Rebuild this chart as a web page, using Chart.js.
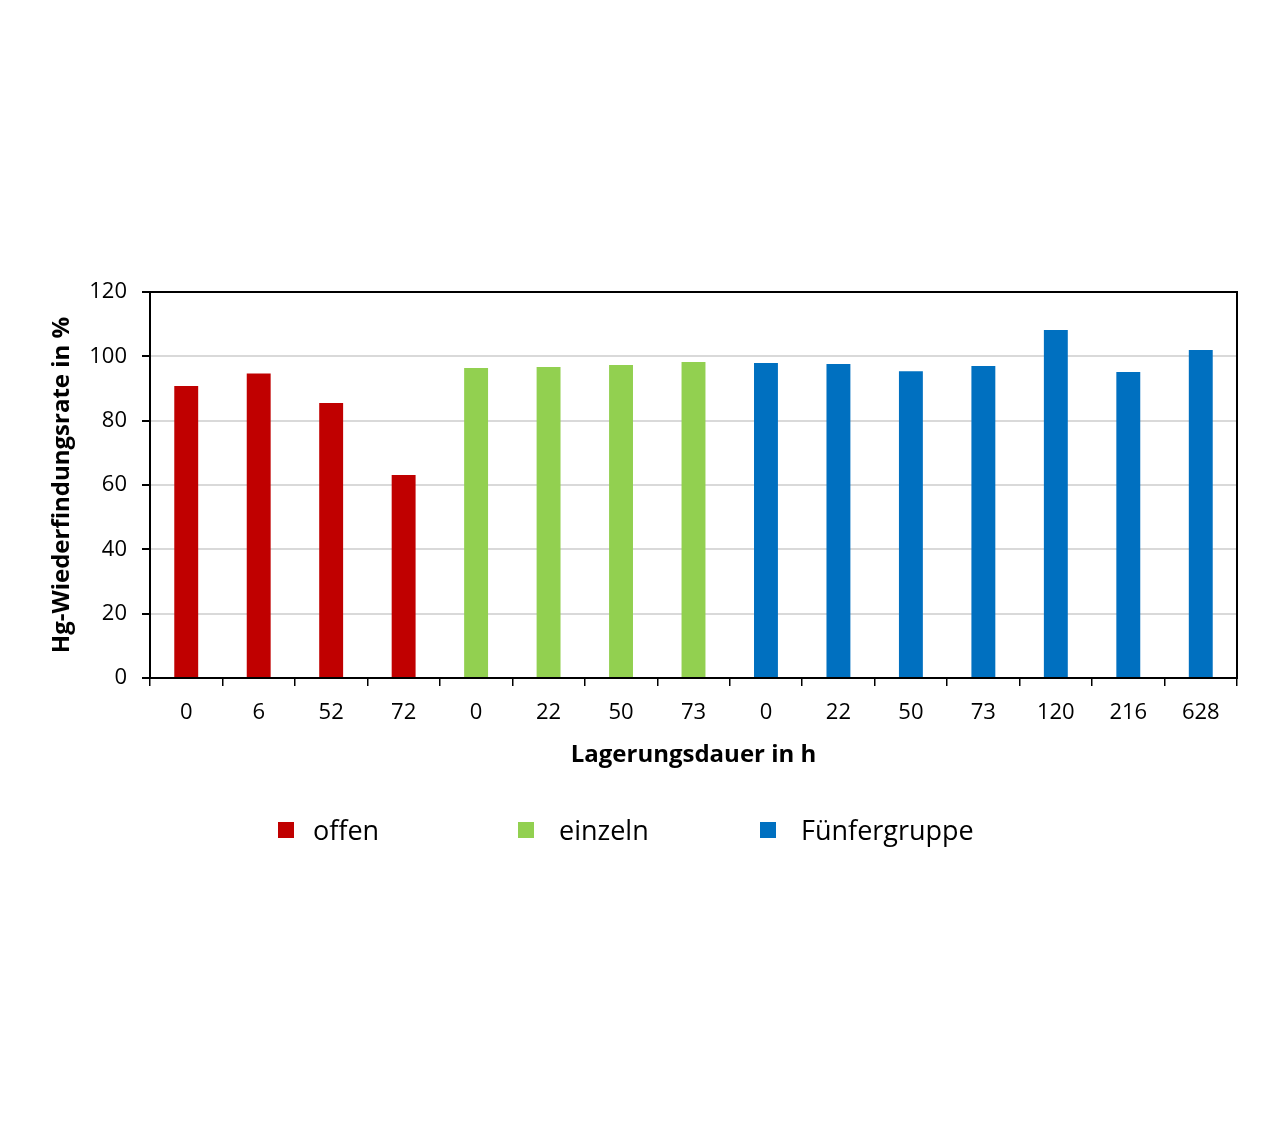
<!DOCTYPE html>
<html>
<head>
<meta charset="utf-8">
<script src="https://cdn.jsdelivr.net/npm/chart.js@4/dist/chart.umd.min.js"></script>
<style>
  body { margin: 0; background: #fff; }
  #wrap { position: relative; width: 1287px; height: 1126px; }
  #legend { position: absolute; left: 0; top: 810px; width: 1287px; height: 40px; font-family: "Open Sans", sans-serif; font-size: 27px; color: #000; }
  .box { position: absolute; top: 12px; width: 16px; height: 16px; }
  .txt { position: absolute; top: 0; height: 40px; line-height: 40px; white-space: nowrap; }
</style>
</head>
<body>
<div id="wrap">
  <canvas id="chart" width="1287" height="1126"></canvas>
  <div id="legend"></div>
</div>
<script>
const hours = ["0", "6", "52", "72", "0", "22", "50", "73", "0", "22", "50", "73", "120", "216", "628"];
const offen = [90.8, 94.7, 85.5, 63.1];
const einzeln = [96.4, 96.7, 97.3, 98.2];
const fuenfergruppe = [97.9, 97.6, 95.4, 97.0, 108.2, 95.1, 102.0];

const seriesNames = ["offen", "einzeln", "Fünfergruppe"];
const seriesColors = ["#C00000", "#92D050", "#0070C0"];

function pad(before, values, after) {
  return Array(before).fill(null).concat(values, Array(after).fill(null));
}

const datasets = [
  { label: seriesNames[0], data: pad(0, offen, 11), backgroundColor: seriesColors[0] },
  { label: seriesNames[1], data: pad(4, einzeln, 7), backgroundColor: seriesColors[1] },
  { label: seriesNames[2], data: pad(8, fuenfergruppe, 0), backgroundColor: seriesColors[2] },
];

// frame round the plot area (top and right side too)
const frame = {
  id: "frame",
  afterDraw(chart) {
    const a = chart.chartArea;
    const ctx = chart.ctx;
    ctx.save();
    ctx.strokeStyle = "#000";
    ctx.lineWidth = 2;
    ctx.strokeRect(a.left, a.top, a.right - a.left, a.bottom - a.top);
    ctx.restore();
  },
};

new Chart(document.getElementById("chart"), {
  type: "bar",
  data: { labels: hours, datasets: datasets },
  plugins: [frame],
  options: {
    responsive: false,
    animation: false,
    layout: { padding: { left: 20, right: 50, top: 292, bottom: 356 } },
    datasets: { bar: { grouped: false, barPercentage: 0.33, categoryPercentage: 1 } },
    plugins: { legend: { display: false }, tooltip: { enabled: false } },
    scales: {
      x: {
        offset: true,
        afterFit: (s) => { s.height = 92; },
        grid: { offset: true, drawOnChartArea: false, color: "#000", tickLength: 8, lineWidth: 1.5 },
        border: { color: "#000", width: 2 },
        ticks: { color: "#000", padding: 14, font: { family: "Open Sans", size: 22 } },
        title: {
          display: true,
          text: "Lagerungsdauer in h",
          color: "#000",
          padding: { top: 11, bottom: 0 },
          font: { family: "Open Sans", size: 24, weight: "bold" },
        },
      },
      y: {
        min: 0,
        max: 120,
        afterFit: (s) => { s.width = 130; },
        grid: { color: "#d9d9d9", tickColor: "#000", tickLength: 8, lineWidth: 2 },
        border: { color: "#000", width: 2 },
        ticks: { stepSize: 20, color: "#000", padding: 15, font: { family: "Open Sans", size: 22 } },
        title: {
          display: true,
          text: "Hg-Wiederfindungsrate in %",
          color: "#000",
          padding: { top: 28, bottom: 0 },
          font: { family: "Open Sans", size: 24, weight: "bold" },
        },
      },
    },
  },
});

// legend: three entries spread out below the chart
const boxX = [278, 518, 760];
const textX = [313, 559, 801];
const legend = document.getElementById("legend");
seriesNames.forEach((name, i) => {
  const box = document.createElement("span");
  box.className = "box";
  box.style.left = boxX[i] + "px";
  box.style.background = seriesColors[i];
  const txt = document.createElement("span");
  txt.className = "txt";
  txt.style.left = textX[i] + "px";
  txt.textContent = name;
  legend.appendChild(box);
  legend.appendChild(txt);
});
</script>
</body>
</html>
